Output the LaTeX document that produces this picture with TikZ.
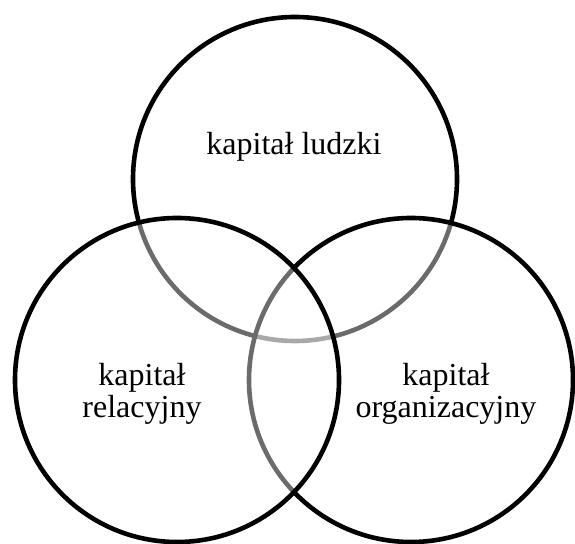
\documentclass[tikz,border=0pt]{standalone}
\usepackage{fontspec}
\setmainfont{Liberation Serif}
\begin{document}
\begin{tikzpicture}[x=1pt,y=1pt,
  capital/.style={circle, draw=black, line width=4.6pt, fill=white,
    fill opacity=0.42, minimum size=324pt, inner sep=0pt},
  label/.style={font=\fontsize{32}{32}\selectfont, align=center, inner sep=0pt}]
  \useasboundingbox (0,0) rectangle (575,543);
  % three overlapping circles; each translucent white fill dims the outlines beneath it
  \node[capital] (ludzki) at (295,364) {};
  \node[capital] (organizacyjny) at (411,163) {};
  \node[capital] (relacyjny) at (177,163) {};
  % labels
  \node[label, anchor=base] (tl) at (294,388) {kapitał ludzki};
  \node[label] (tr) at (142,149.5) {kapitał\\relacyjny};
  \node[label] (to) at (446,149.5) {kapitał\\organizacyjny};
\end{tikzpicture}
\end{document}
